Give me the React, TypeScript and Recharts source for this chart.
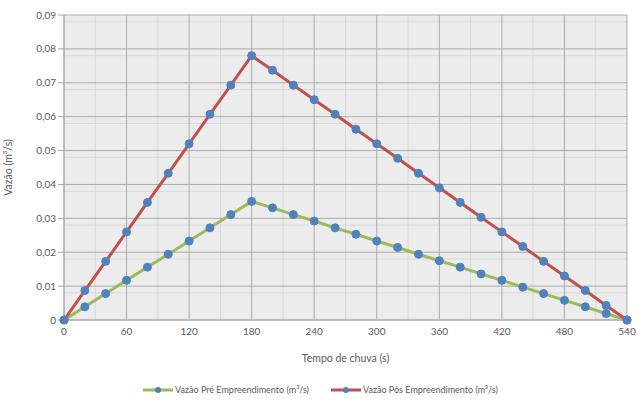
import { LineChart, Line, XAxis, YAxis, CartesianGrid, Legend } from 'recharts';

const tempo = [0, 20, 40, 60, 80, 100, 120, 140, 160, 180, 200, 220, 240, 260, 280, 300, 320, 340, 360, 380, 400, 420, 440, 460, 480, 500, 520, 540];
const vazaoPre = [0, 0.0039, 0.0078, 0.0117, 0.0156, 0.0194, 0.0233, 0.0272, 0.0311, 0.035, 0.0331, 0.0311, 0.0292, 0.0272, 0.0253, 0.0233, 0.0214, 0.0194, 0.0175, 0.0156, 0.0136, 0.0117, 0.0097, 0.0078, 0.0058, 0.0039, 0.0019, 0];
const vazaoPos = [0, 0.0087, 0.0173, 0.026, 0.0347, 0.0433, 0.052, 0.0607, 0.0693, 0.078, 0.0737, 0.0693, 0.065, 0.0607, 0.0563, 0.052, 0.0477, 0.0433, 0.039, 0.0347, 0.0303, 0.026, 0.0217, 0.0173, 0.013, 0.0087, 0.0043, 0];
const xTicks = [0, 60, 120, 180, 240, 300, 360, 420, 480, 540];
const yTicks = [0, 0.01, 0.02, 0.03, 0.04, 0.05, 0.06, 0.07, 0.08, 0.09];
const xMinor = [30, 90, 150, 210, 270, 330, 390, 450, 510];
const yMinor = [0.002, 0.004, 0.006, 0.008, 0.012, 0.014, 0.016, 0.018, 0.022, 0.024, 0.026, 0.028, 0.032, 0.034, 0.036, 0.038, 0.042, 0.044, 0.046, 0.048, 0.052, 0.054, 0.056, 0.058, 0.062, 0.064, 0.066, 0.068, 0.072, 0.074, 0.076, 0.078, 0.082, 0.084, 0.086, 0.088];

const data = tempo.map((t, i) => ({ t, pre: vazaoPre[i], pos: vazaoPos[i] }));

const FONT = 'Lato, "Open Sans", sans-serif';
const TXT = '#595959';
const MARKER = '#4f81bd';

const fmtY = (v: number) => (v === 0 ? '0' : v.toFixed(2).replace('.', ','));

const LegendIcon = ({ color }: { color: string }) => (
  <svg width={30} height={8} style={{ marginRight: 2 }}>
    <line x1={0} y1={4} x2={30} y2={4} stroke={color} strokeWidth={3} />
    <circle cx={15} cy={4} r={3} fill={MARKER} />
  </svg>
);

const CustomLegend = () => (
  <div style={{ display: 'flex', justifyContent: 'center', gap: 22, paddingTop: 7, fontFamily: FONT, fontSize: 9, color: TXT }}>
    <div style={{ display: 'flex', alignItems: 'center' }}>
      <LegendIcon color="#9bbb59" />
      <span>Vazão Pré Empreendimento (m³/s)</span>
    </div>
    <div style={{ display: 'flex', alignItems: 'center' }}>
      <LegendIcon color="#c0504d" />
      <span>Vazão Pós Empreendimento (m³/s)</span>
    </div>
  </div>
);

export default function App() {
  return (
    <div style={{ position: 'absolute', left: 0, top: 0, width: 643, height: 405, background: '#fff' }}>
      <LineChart width={643} height={405} data={data} margin={{ top: 15, right: 16, left: 14, bottom: 4 }}>
        <CartesianGrid
          fill="#ececec"
          stroke="#d9d9d9"
          strokeWidth={1}
          verticalValues={xMinor}
          horizontalValues={yMinor}
        />
        <CartesianGrid
          stroke="#ababab"
          strokeWidth={1}
          verticalValues={xTicks}
          horizontalValues={yTicks}
        />
        <XAxis
          dataKey="t"
          type="number"
          domain={[0, 540]}
          ticks={xTicks}
          tick={{ fontSize: 10, fill: TXT, fontFamily: FONT }}
          tickLine={false}
          axisLine={{ stroke: '#a6a6a6' }}
          height={57}
          label={{ value: 'Tempo de chuva (s)', position: 'insideBottom', offset: 15, fontSize: 10.5, fill: TXT, fontFamily: FONT }}
        />
        <YAxis
          type="number"
          domain={[0, 0.09]}
          ticks={yTicks}
          tickFormatter={fmtY}
          tick={{ fontSize: 10, fill: TXT, fontFamily: FONT }}
          tickLine={{ stroke: '#a6a6a6' }}
          tickSize={6}
          axisLine={{ stroke: '#a6a6a6' }}
          width={50}
          label={{ value: 'Vazão (m³/s)', angle: -90, position: 'insideLeft', offset: 0, dx: -6, fontSize: 10.5, fill: TXT, fontFamily: FONT, style: { textAnchor: 'middle' } }}
        />
        <Legend verticalAlign="bottom" height={24} content={<CustomLegend />} />
        <Line
          dataKey="pre"
          stroke="#9bbb59"
          strokeWidth={3}
          dot={{ r: 4, fill: MARKER, stroke: MARKER, strokeWidth: 1 }}
          isAnimationActive={false}
        />
        <Line
          dataKey="pos"
          stroke="#c0504d"
          strokeWidth={3}
          dot={{ r: 4, fill: MARKER, stroke: MARKER, strokeWidth: 1 }}
          isAnimationActive={false}
        />
      </LineChart>
    </div>
  );
}
